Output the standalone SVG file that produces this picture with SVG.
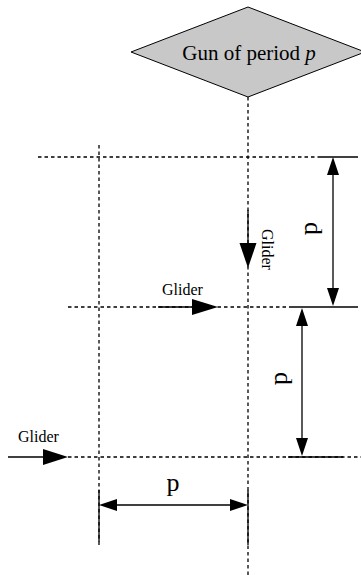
<svg xmlns="http://www.w3.org/2000/svg" width="361" height="575" viewBox="0 0 361 575">
  <style>
    .grid { stroke: #000; stroke-width: 1.3; stroke-dasharray: 3.5 3; fill: none; }
    .solid { stroke: #000; stroke-width: 1.3; fill: none; }
    .head { fill: #000; stroke: none; }
    .lbl { font-family: "Liberation Serif", "Times New Roman", serif; fill: #000; }
  </style>
  <rect width="361" height="575" fill="#fff"/>

  <!-- gun node -->
  <g id="gun">
    <polygon points="248,7 365,52 248,97 131,52" fill="#c8c8c8" stroke="#000" stroke-width="1"/>
    <text class="lbl" x="249" y="60" font-size="21" text-anchor="middle">Gun of period <tspan font-style="italic">p</tspan></text>
  </g>

  <!-- dotted grid lanes -->
  <g id="lanes">
    <line class="grid" x1="248" y1="97" x2="248" y2="575"/>
    <line class="grid" x1="99" y1="145" x2="99" y2="548"/>
    <line class="grid" x1="38" y1="157" x2="320" y2="157"/>
    <line class="grid" x1="68" y1="307" x2="290" y2="307"/>
    <line class="grid" x1="68" y1="457" x2="361" y2="457"/>
  </g>

  <!-- gliders -->
  <g id="glider-down">
    <line class="solid" x1="248" y1="210" x2="248" y2="245"/>
    <polygon class="head" points="239.5,243 256.5,243 248,268"/>
    <text class="lbl" font-size="16" transform="translate(262,229) rotate(90)">Glider</text>
  </g>
  <g id="glider-mid">
    <line class="solid" x1="158" y1="307" x2="194" y2="307"/>
    <polygon class="head" points="192,299 192,315 218,307"/>
    <text class="lbl" x="162" y="295" font-size="16">Glider</text>
  </g>
  <g id="glider-low">
    <line class="solid" x1="8" y1="457" x2="45" y2="457"/>
    <polygon class="head" points="43,449 43,465 68,457"/>
    <text class="lbl" x="18" y="442" font-size="16">Glider</text>
  </g>

  <!-- dimension: upper d -->
  <g id="dim-d-upper">
    <line class="solid" x1="320" y1="157" x2="358" y2="157"/>
    <line class="solid" x1="290" y1="307" x2="358" y2="307"/>
    <line class="solid" x1="333" y1="170" x2="333" y2="294"/>
    <polygon class="head" points="333,157 327,175 339,175"/>
    <polygon class="head" points="333,306 327,288 339,288"/>
    <text class="lbl" font-size="26" transform="translate(305,222) rotate(90)">d</text>
  </g>

  <!-- dimension: lower d -->
  <g id="dim-d-lower">
    <line class="solid" x1="288" y1="457" x2="343" y2="457"/>
    <line class="solid" x1="302" y1="320" x2="302" y2="444"/>
    <polygon class="head" points="302,308 296,326 308,326"/>
    <polygon class="head" points="302,456 296,438 308,438"/>
    <text class="lbl" font-size="26" transform="translate(275,372) rotate(90)">d</text>
  </g>

  <!-- dimension: p -->
  <g id="dim-p">
    <line class="solid" x1="99" y1="490" x2="99" y2="542"/>
    <line class="solid" x1="248" y1="490" x2="248" y2="545"/>
    <line class="solid" x1="112" y1="505" x2="235" y2="505"/>
    <polygon class="head" points="99,505 117,499 117,511"/>
    <polygon class="head" points="248,505 230,499 230,511"/>
    <text class="lbl" x="173" y="491" font-size="26" text-anchor="middle">p</text>
  </g>
</svg>
